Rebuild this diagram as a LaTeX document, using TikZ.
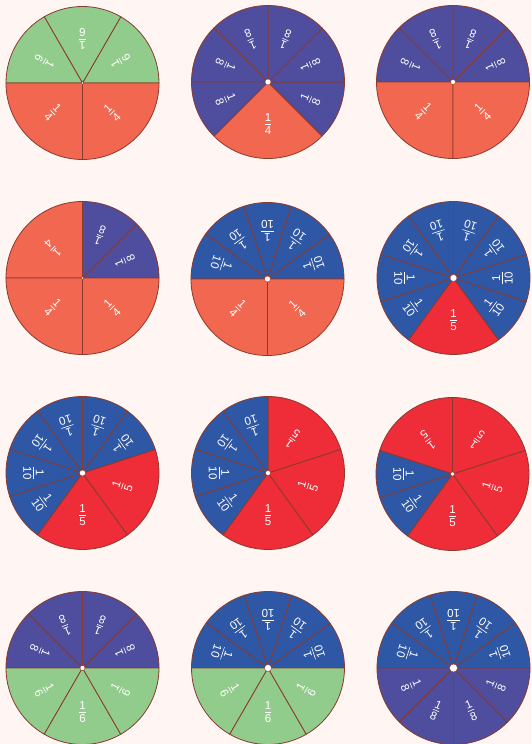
\documentclass[tikz,border=0pt]{standalone}
\usepackage{fontspec}
\setmainfont{Liberation Sans}
\usetikzlibrary{calc}
\definecolor{bg}{RGB}{255,245,242}
\definecolor{quart}{RGB}{242,103,80}
\definecolor{sixth}{RGB}{146,204,140}
\definecolor{eighth}{RGB}{78,77,158}
\definecolor{tenth}{RGB}{46,87,165}
\definecolor{fifth}{RGB}{238,45,56}
\definecolor{edge}{RGB}{138,58,46}
\newcommand\fr[2]{\vbox{\offinterlineskip\halign{\hfil##\hfil\cr\hbox{#1}\cr\noalign{\kern2pt\hrule height 0.6pt\kern2pt}\hbox{#2}\cr}}}
\newcommand\R{76.5}
\newcommand\piece[6]{%
  \filldraw[slicebox, fill=#4] (#1) -- ++(#2:\R) arc[start angle=#2, end angle=#3, radius=\R] -- cycle;
  \pgfmathsetmacro\midang{(#2+#3)/2}
  \node[lab, rotate=\midang+90] (#1-#2) at ($(#1)+(\midang:#6)$) {\fr{1}{#5}};
}
\newcommand\hole[2]{\node[holebox, minimum size=#2] (#1-h) at (#1) {};}
\begin{document}
\begin{tikzpicture}[x=1pt,y=1pt,
  slicebox/.style={draw=edge, line width=0.8pt, line join=round},
  lab/.style={text=white, font=\fontsize{11.5}{12}\selectfont, inner sep=0pt},
  holebox/.style={circle, fill=white, draw=edge, line width=0.4pt, inner sep=0pt}]
\fill[bg] (0,0) rectangle (531,-744);
\useasboundingbox (0,0) rectangle (531,-744);
% centers
\coordinate (c1) at (82.5,-83);
\coordinate (c2) at (268,-82);
\coordinate (c3) at (453,-82);
\coordinate (c4) at (82.5,-278);
\coordinate (c5) at (267.5,-279);
\coordinate (c6) at (453.5,-278);
\coordinate (c7) at (82.5,-473);
\coordinate (c8) at (268,-473);
\coordinate (c9) at (452.5,-474);
\coordinate (c10) at (82.5,-668);
\coordinate (c11) at (268,-668);
\coordinate (c12) at (453.5,-668);
% circle 1
\piece{c1}{0}{60}{sixth}{6}{44}
\piece{c1}{60}{120}{sixth}{6}{44}
\piece{c1}{120}{180}{sixth}{6}{44}
\piece{c1}{180}{270}{quart}{4}{42}
\piece{c1}{270}{360}{quart}{4}{42}
\hole{c1}{3pt}
% circle 2
\piece{c2}{225}{315}{quart}{4}{42}
\piece{c2}{315}{360}{eighth}{8}{46}
\piece{c2}{0}{45}{eighth}{8}{46}
\piece{c2}{45}{90}{eighth}{8}{46}
\piece{c2}{90}{135}{eighth}{8}{46}
\piece{c2}{135}{180}{eighth}{8}{46}
\piece{c2}{180}{225}{eighth}{8}{46}
\hole{c2}{6pt}
% circle 3
\piece{c3}{0}{45}{eighth}{8}{46}
\piece{c3}{45}{90}{eighth}{8}{46}
\piece{c3}{90}{135}{eighth}{8}{46}
\piece{c3}{135}{180}{eighth}{8}{46}
\piece{c3}{180}{270}{quart}{4}{42}
\piece{c3}{270}{360}{quart}{4}{42}
\hole{c3}{5pt}
% circle 4
\piece{c4}{0}{45}{eighth}{8}{46}
\piece{c4}{45}{90}{eighth}{8}{46}
\piece{c4}{90}{180}{quart}{4}{42}
\piece{c4}{180}{270}{quart}{4}{42}
\piece{c4}{270}{360}{quart}{4}{42}
\hole{c4}{3pt}
% circle 5
\piece{c5}{0}{36}{tenth}{10}{48}
\piece{c5}{36}{72}{tenth}{10}{48}
\piece{c5}{72}{108}{tenth}{10}{48}
\piece{c5}{108}{144}{tenth}{10}{48}
\piece{c5}{144}{180}{tenth}{10}{48}
\piece{c5}{180}{270}{quart}{4}{42}
\piece{c5}{270}{360}{quart}{4}{42}
\hole{c5}{6pt}
% circle 6
\piece{c6}{234}{306}{fifth}{5}{42}
\piece{c6}{306}{342}{tenth}{10}{49}
\piece{c6}{342}{378}{tenth}{10}{49}
\piece{c6}{18}{54}{tenth}{10}{49}
\piece{c6}{54}{90}{tenth}{10}{49}
\piece{c6}{90}{126}{tenth}{10}{49}
\piece{c6}{126}{162}{tenth}{10}{49}
\piece{c6}{162}{198}{tenth}{10}{49}
\piece{c6}{198}{234}{tenth}{10}{49}
\hole{c6}{7pt}
% circle 7
\piece{c7}{234}{306}{fifth}{5}{42}
\piece{c7}{306}{378}{fifth}{5}{42}
\piece{c7}{18}{54}{tenth}{10}{49}
\piece{c7}{54}{90}{tenth}{10}{49}
\piece{c7}{90}{126}{tenth}{10}{49}
\piece{c7}{126}{162}{tenth}{10}{49}
\piece{c7}{162}{198}{tenth}{10}{49}
\piece{c7}{198}{234}{tenth}{10}{49}
\hole{c7}{6pt}
% circle 8
\piece{c8}{234}{306}{fifth}{5}{42}
\piece{c8}{306}{378}{fifth}{5}{42}
\piece{c8}{18}{90}{fifth}{5}{42}
\piece{c8}{90}{126}{tenth}{10}{49}
\piece{c8}{126}{162}{tenth}{10}{49}
\piece{c8}{162}{198}{tenth}{10}{49}
\piece{c8}{198}{234}{tenth}{10}{49}
\hole{c8}{5pt}
% circle 9
\piece{c9}{234}{306}{fifth}{5}{42}
\piece{c9}{306}{378}{fifth}{5}{42}
\piece{c9}{18}{90}{fifth}{5}{42}
\piece{c9}{90}{162}{fifth}{5}{42}
\piece{c9}{162}{198}{tenth}{10}{49}
\piece{c9}{198}{234}{tenth}{10}{49}
\hole{c9}{4pt}
% circle 10
\piece{c10}{0}{45}{eighth}{8}{46}
\piece{c10}{45}{90}{eighth}{8}{46}
\piece{c10}{90}{135}{eighth}{8}{46}
\piece{c10}{135}{180}{eighth}{8}{46}
\piece{c10}{180}{240}{sixth}{6}{44}
\piece{c10}{240}{300}{sixth}{6}{44}
\piece{c10}{300}{360}{sixth}{6}{44}
\hole{c10}{5pt}
% circle 11
\piece{c11}{0}{36}{tenth}{10}{48}
\piece{c11}{36}{72}{tenth}{10}{48}
\piece{c11}{72}{108}{tenth}{10}{48}
\piece{c11}{108}{144}{tenth}{10}{48}
\piece{c11}{144}{180}{tenth}{10}{48}
\piece{c11}{180}{240}{sixth}{6}{44}
\piece{c11}{240}{300}{sixth}{6}{44}
\piece{c11}{300}{360}{sixth}{6}{44}
\hole{c11}{7pt}
% circle 12
\piece{c12}{0}{36}{tenth}{10}{48}
\piece{c12}{36}{72}{tenth}{10}{48}
\piece{c12}{72}{108}{tenth}{10}{48}
\piece{c12}{108}{144}{tenth}{10}{48}
\piece{c12}{144}{180}{tenth}{10}{48}
\piece{c12}{180}{225}{eighth}{8}{46}
\piece{c12}{225}{270}{eighth}{8}{46}
\piece{c12}{270}{315}{eighth}{8}{46}
\piece{c12}{315}{360}{eighth}{8}{46}
\hole{c12}{8pt}
\end{tikzpicture}
\end{document}
